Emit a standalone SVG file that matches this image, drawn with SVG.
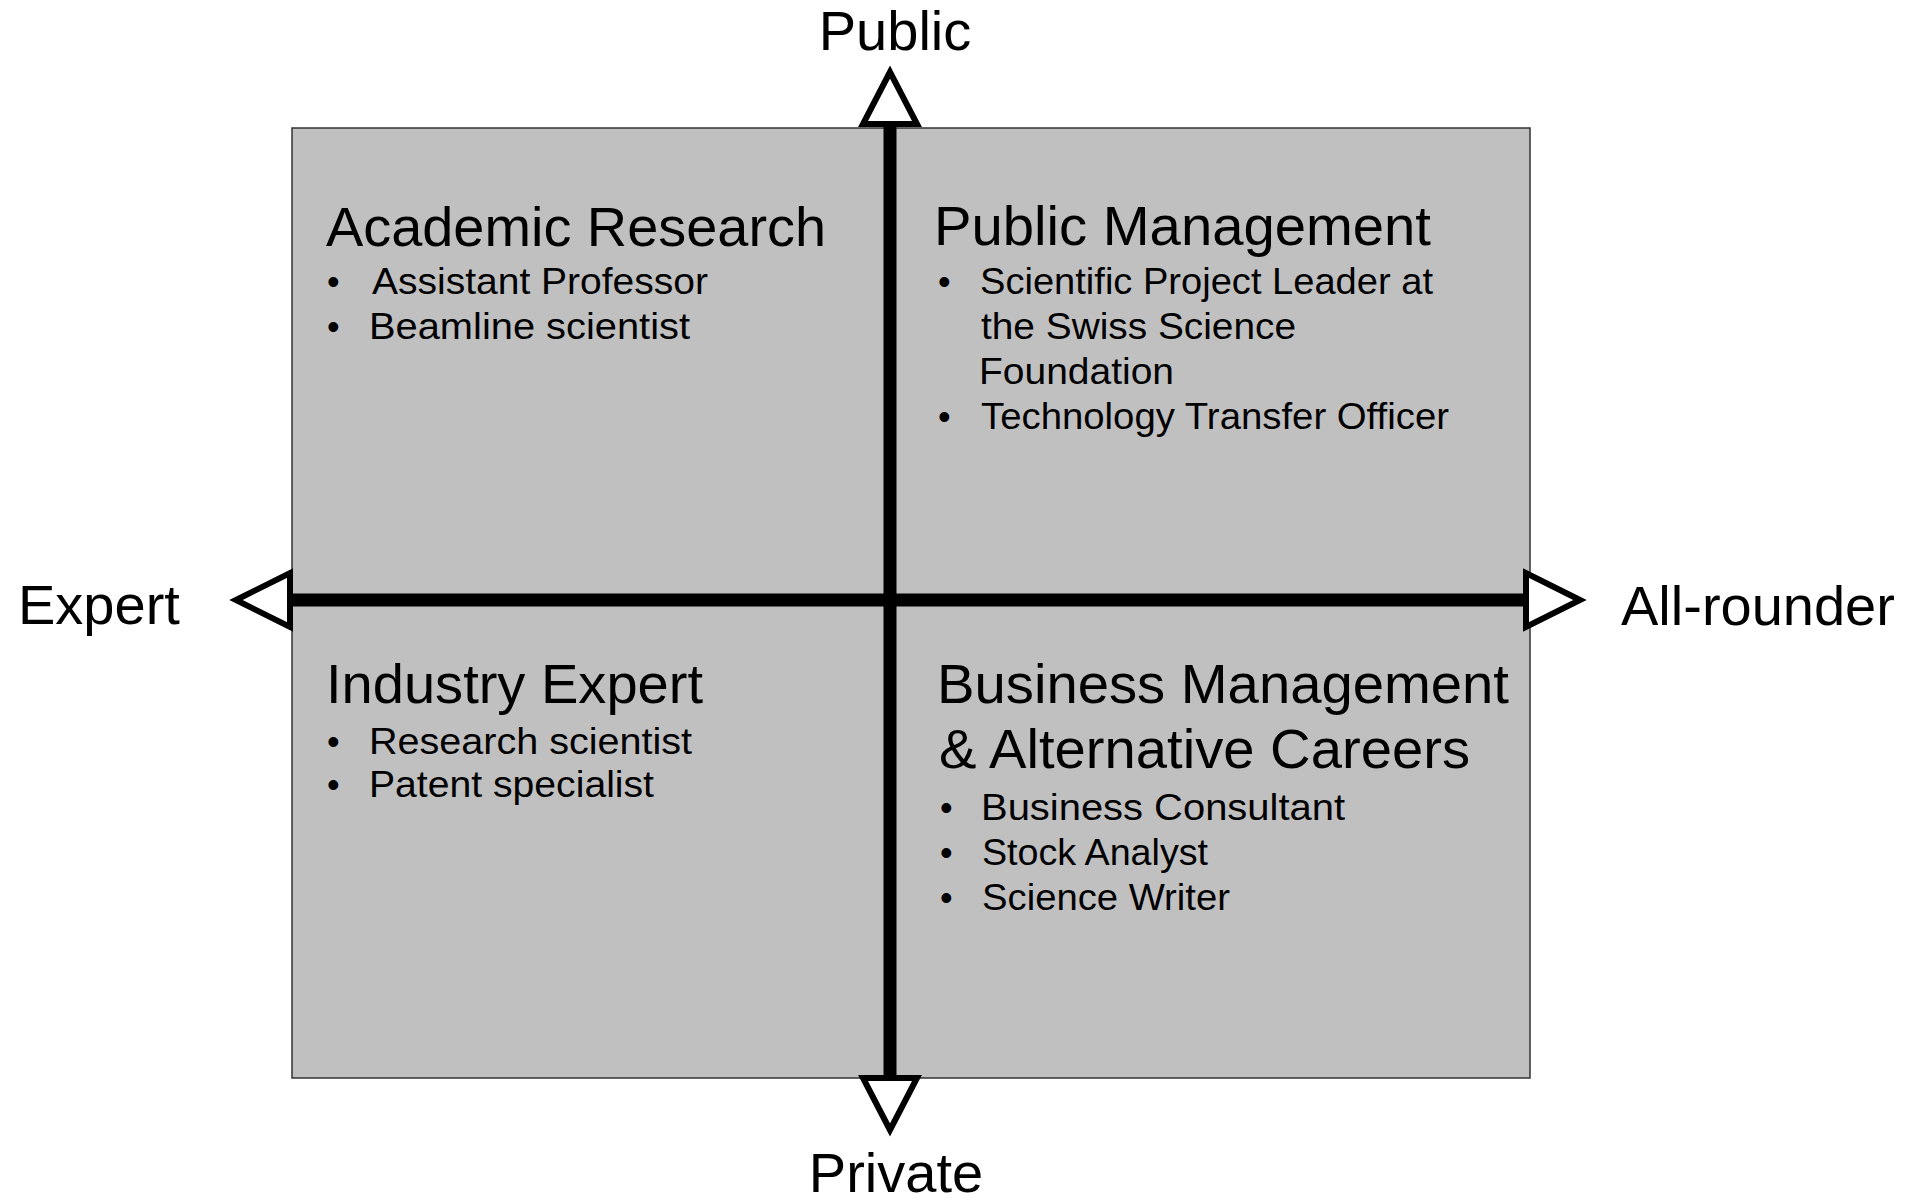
<svg xmlns="http://www.w3.org/2000/svg" width="1908" height="1204" viewBox="0 0 1908 1204">
<style>
text{font-family:"Liberation Sans",Arial,sans-serif;fill:#000}
.axis{font-size:56px}
.title{font-size:55px}
.item{font-size:36px}
.head{fill:#fff;stroke:#000;stroke-width:6;stroke-linejoin:miter}
</style>
<rect width="1908" height="1204" fill="#fff"/>
<g id="quadrants">
<rect x="292" y="128" width="1238" height="950" fill="#c0c0c0" stroke="#333" stroke-width="1.5"/>
</g>
<g id="connectors">
<line x1="890" y1="124" x2="890" y2="1077" stroke="#000" stroke-width="13"/>
<line x1="290" y1="600" x2="1526" y2="600" stroke="#000" stroke-width="13"/>
<polygon class="head" points="890,72 863,124 917,124"/>
<polygon class="head" points="890,1130 863,1078 917,1078"/>
<polygon class="head" points="236,600 290,573 290,627"/>
<polygon class="head" points="1580,600 1526,573 1526,627"/>
</g>
<g id="label-public"><text class="axis" x="895" y="50" text-anchor="middle">Public</text></g>
<g id="label-private"><text class="axis" x="896" y="1192" text-anchor="middle">Private</text></g>
<g id="label-expert"><text class="axis" x="18" y="624">Expert</text></g>
<g id="label-allrounder"><text class="axis" x="1621" y="625">All-rounder</text></g>
<g id="academic-research">
<text class="title" x="326" y="246" textLength="500" lengthAdjust="spacingAndGlyphs">Academic Research</text>
<text class="item" x="327" y="294">•</text><text class="item" x="372" y="294" textLength="336" lengthAdjust="spacingAndGlyphs">Assistant Professor</text>
<text class="item" x="327" y="339">•</text><text class="item" x="369" y="339" textLength="321" lengthAdjust="spacingAndGlyphs">Beamline scientist</text>
</g>
<g id="public-management">
<text class="title" x="934" y="245" textLength="497" lengthAdjust="spacingAndGlyphs">Public Management</text>
<text class="item" x="938" y="294">•</text><text class="item" x="980" y="294" textLength="453" lengthAdjust="spacingAndGlyphs">Scientific Project Leader at</text>
<text class="item" x="981" y="339" textLength="315" lengthAdjust="spacingAndGlyphs">the Swiss Science</text>
<text class="item" x="979" y="384" textLength="195" lengthAdjust="spacingAndGlyphs">Foundation</text>
<text class="item" x="938" y="429">•</text><text class="item" x="981" y="429" textLength="468" lengthAdjust="spacingAndGlyphs">Technology Transfer Officer</text>
</g>
<g id="industry-expert">
<text class="title" x="326" y="703" textLength="377" lengthAdjust="spacingAndGlyphs">Industry Expert</text>
<text class="item" x="327" y="754">•</text><text class="item" x="369" y="754" textLength="323" lengthAdjust="spacingAndGlyphs">Research scientist</text>
<text class="item" x="327" y="797">•</text><text class="item" x="369" y="797" textLength="285" lengthAdjust="spacingAndGlyphs">Patent specialist</text>
</g>
<g id="business-management">
<text class="title" x="937" y="703" textLength="572" lengthAdjust="spacingAndGlyphs">Business Management</text>
<text class="title" x="939" y="768" textLength="531" lengthAdjust="spacingAndGlyphs">&amp; Alternative Careers</text>
<text class="item" x="940" y="820">•</text><text class="item" x="981" y="820" textLength="364" lengthAdjust="spacingAndGlyphs">Business Consultant</text>
<text class="item" x="940" y="865">•</text><text class="item" x="982" y="865" textLength="226" lengthAdjust="spacingAndGlyphs">Stock Analyst</text>
<text class="item" x="940" y="910">•</text><text class="item" x="982" y="910" textLength="248" lengthAdjust="spacingAndGlyphs">Science Writer</text>
</g>
</svg>
